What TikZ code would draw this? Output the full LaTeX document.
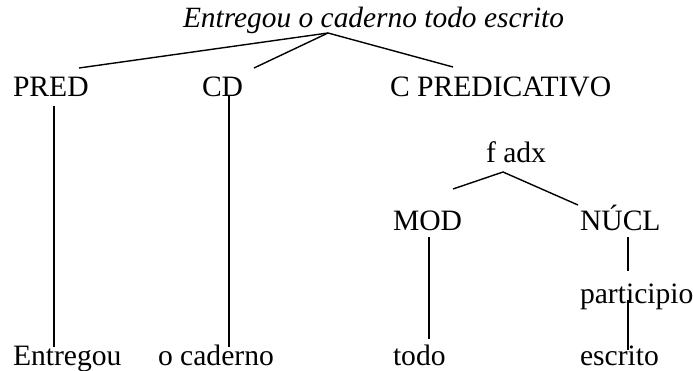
\documentclass[tikz,border=0pt]{standalone}
\usepackage{fontspec}
\setmainfont{Liberation Serif}
\begin{document}
\begin{tikzpicture}[x=1pt,y=-1pt,
  lbl/.style={anchor=base west,inner sep=0pt,outer sep=0pt,font=\fontsize{29.6}{34}\selectfont},
  ttl/.style={lbl,font=\fontsize{29.4}{34}\selectfont\itshape},
  br/.style={line width=1.4pt}]
\useasboundingbox (0,0) rectangle (693,371);
% labels
\node[ttl] (title) at (183,28) {Entregou o caderno todo escrito};
\node[lbl] (pred) at (13,97) {PRED};
\node[lbl] (cd) at (202,97) {CD};
\node[lbl] (cpred) at (390,97) {C PREDICATIVO};
\node[lbl] (fadx) at (486,163) {f adx};
\node[lbl] (mod) at (393,231) {MOD};
\node[lbl] (nucl) at (580,231) {NÚCL};
\node[lbl] (part) at (580,303) {participio};
\node[lbl] (w1) at (13,365) {Entregou};
\node[lbl] (w2) at (158,365) {o caderno};
\node[lbl] (w3) at (393,365) {todo};
\node[lbl] (w4) at (580,365) {escrito};
% connector points
\coordinate (apex) at (328,33);
\coordinate (predT) at (79,68);
\coordinate (cdT) at (254,68);
\coordinate (cpredT) at (453,67);
\coordinate (predB) at (54,106);
\coordinate (w1T) at (54,347);
\coordinate (cdB) at (229,95);
\coordinate (w2T) at (229,347);
\coordinate (fapex) at (503,172);
\coordinate (modT) at (453,189);
\coordinate (nuclT) at (578,205);
\coordinate (modB) at (429,237);
\coordinate (w3T) at (429,339);
\coordinate (nuclB) at (628,237);
\coordinate (partT) at (628,271);
\coordinate (partB) at (628,300);
\coordinate (w4T) at (628,350);
% connectors
\draw[br] (predT) -- (apex) -- (cpredT);
\draw[br] (apex) -- (cdT);
\draw[br] (predB) -- (w1T);
\draw[br] (cdB) -- (w2T);
\draw[br] (modT) -- (fapex) -- (nuclT);
\draw[br] (modB) -- (w3T);
\draw[br] (nuclB) -- (partT);
\draw[br] (partB) -- (w4T);
\end{tikzpicture}
\end{document}
